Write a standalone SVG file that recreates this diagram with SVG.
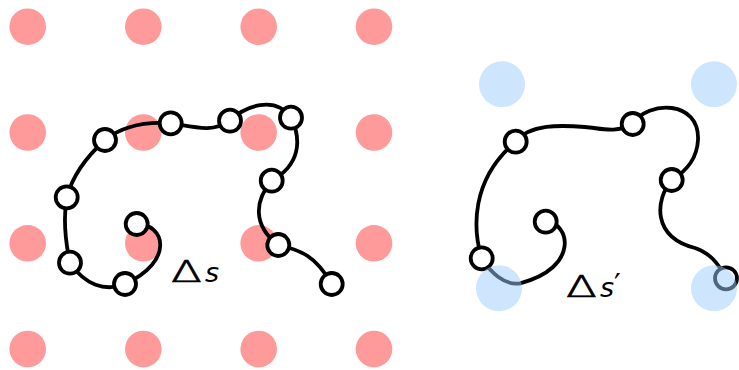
<svg xmlns="http://www.w3.org/2000/svg" width="739" height="370" viewBox="0 0 739 370">
  <style>
    .grid-red { fill: #ff9a9a; }
    .grid-blue { fill: rgb(155,205,252); fill-opacity: 0.5; }
    .curve { fill: none; stroke: #000; stroke-width: 3.8; stroke-linecap: round; stroke-linejoin: round; }
    .node { fill: #fff; stroke: #000; stroke-width: 3.8; }
    .sym { font-family: "DejaVu Sans", sans-serif; font-weight: 200; font-size: 30px; fill: #000; stroke: #000; stroke-width: 0.7; }
    .var { font-family: "DejaVu Sans", sans-serif; font-style: italic; font-size: 27px; fill: #000; }
  </style>
  <defs>
    <circle id="rdot" r="18.3"/>
    <circle id="bdot" r="23"/>
    <circle id="pt" r="11"/>
  </defs>

  <!-- fine sampling grid (left) -->
  <g id="grid-left" class="grid-red">
    <use href="#rdot" x="27.7" y="26.7"/><use href="#rdot" x="143.3" y="26.7"/><use href="#rdot" x="258.7" y="26.7"/><use href="#rdot" x="374" y="26.7"/>
    <use href="#rdot" x="27.7" y="132.5"/><use href="#rdot" x="143.3" y="132.5"/><use href="#rdot" x="258.7" y="132.5"/><use href="#rdot" x="374" y="132.5"/>
    <use href="#rdot" x="27.7" y="243.3"/><use href="#rdot" x="143.3" y="243.3"/><use href="#rdot" x="258.7" y="243.3"/><use href="#rdot" x="374" y="243.3"/>
    <use href="#rdot" x="27.7" y="349"/><use href="#rdot" x="143.3" y="349"/><use href="#rdot" x="258.7" y="349"/><use href="#rdot" x="374" y="349"/>
  </g>

  <!-- connectors: the two curves -->
  <g id="connectors">
    <path id="curve-left" class="curve" d="M136.7,224 C166,224 174,262 125,284 C105,292 85,285 70,262.7 C65,240 63,220 66.7,197.3 C72,178 85,158 105,140 C120,128 140,121 170.7,123.3 C195,127 212,133 230,120.7 C245,106 275,95 291,117.7 C302,140 300,165 271.7,180.7 C255,200 252,225 278.3,245 C300,250 315,255 331.7,284"/>
    <path id="curve-right" class="curve" d="M545.7,221.7 C570,222 580,268 520,283.3 C505,286 490,272 481.7,258.3 C473,230 470,180 515.7,141.7 C530,124 560,125 585,127 C600,128 615,134 632.7,124 C648,100 700,100 698,140 C697,160 685,172 671.7,180 C655,200 652,237 695,248 C710,253 718,263 726,278.3"/>
  </g>

  <!-- samples along the left curve -->
  <g id="nodes-left" class="node">
    <use id="n1" href="#pt" x="136.7" y="224"/>
    <use id="n2" href="#pt" x="125" y="284"/>
    <use id="n3" href="#pt" x="70" y="262.7"/>
    <use id="n4" href="#pt" x="66.7" y="197.3"/>
    <use id="n5" href="#pt" x="105" y="140"/>
    <use id="n6" href="#pt" x="170.7" y="123.3"/>
    <use id="n7" href="#pt" x="230" y="120.7"/>
    <use id="n8" href="#pt" x="291" y="117.7"/>
    <use id="n9" href="#pt" x="271.7" y="180.7"/>
    <use id="n10" href="#pt" x="278.3" y="245"/>
    <use id="n11" href="#pt" x="331.7" y="284"/>
  </g>

  <!-- samples along the right curve -->
  <g id="nodes-right" class="node">
    <use id="m1" href="#pt" x="545.7" y="221.7"/>
    <use id="m2" href="#pt" x="481.7" y="258.3"/>
    <use id="m3" href="#pt" x="515.7" y="141.7"/>
    <use id="m4" href="#pt" x="632.7" y="124"/>
    <use id="m5" href="#pt" x="671.7" y="180"/>
    <use id="m6" href="#pt" x="726" y="278.3"/>
  </g>

  <!-- coarse sampling grid (right), drawn translucent on top -->
  <g id="grid-right" class="grid-blue">
    <use href="#bdot" x="502" y="84.3"/><use href="#bdot" x="714" y="84.3"/>
    <use href="#bdot" x="499" y="288.3"/><use href="#bdot" x="714" y="288.3"/>
  </g>

  <!-- step-size labels -->
  <g id="label-left">
    <text class="sym" transform="translate(171,281.7) scale(1.5,1)">Δ</text>
    <text class="var" x="205" y="281.7">s</text>
  </g>
  <g id="label-right">
    <text class="sym" transform="translate(566,297.3) scale(1.5,1)">Δ</text>
    <text class="var" x="600" y="297.3">s<tspan font-style="normal" font-size="30" dx="0" dy="-2">′</tspan></text>
  </g>
</svg>
